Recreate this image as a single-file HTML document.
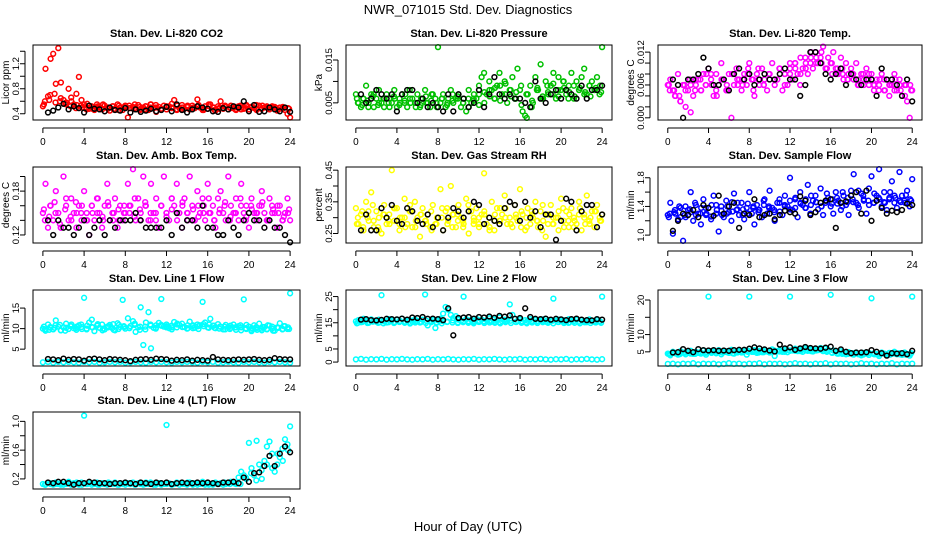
<!DOCTYPE html>
<html><head><meta charset="utf-8"><style>
body{margin:0;background:#fff}
svg{display:block;font-family:"Liberation Sans",sans-serif}
</style></head><body>
<svg id="chart" width="936" height="540" xmlns="http://www.w3.org/2000/svg">
<rect width="936" height="540" fill="#fff"/>
<text x="468" y="14" font-size="13" text-anchor="middle">NWR_071015  Std. Dev. Diagnostics</text>
<text x="468" y="531" font-size="13" text-anchor="middle">Hour of Day (UTC)</text>
</svg>
<script>
const xTicks=[0,4,8,12,16,20,24];
const co2Red=[0.52,1.12,0.68,1.28,1.36,0.88,1.45,0.90,0.62,0.58,0.80,0.66,0.55,0.72,0.99,0.62,0.55,0.50,0.48,0.52,0.46,0.55,0.50,0.47,0.53,0.49,0.45,0.52,0.48,0.55,0.50,0.46,0.53,0.34,0.49,0.51,0.47,0.54,0.48,0.50,0.52,0.46,0.55,0.49,0.43,0.51,0.48,0.53,0.47,0.52,0.50,0.62,0.46,0.49,0.54,0.48,0.51,0.47,0.53,0.49,0.63,0.50,0.46,0.52,0.48,0.55,0.50,0.45,0.52,0.60,0.48,0.51,0.47,0.53,0.49,0.46,0.52,0.50,0.48,0.54,0.47,0.51,0.49,0.46,0.53,0.48,0.50,0.52,0.47,0.49,0.51,0.45,0.50,0.48,0.46,0.40,0.34];
const co2Red2=[0.60,0.70,0.58,0.65,0.55,0.60,0.54,0.50,0.56,0.48,0.52,0.55,0.50,0.47,0.53,0.51,0.49,0.55,0.46,0.52,0.50,0.54,0.48,0.51,0.56,0.47,0.50,0.53,0.49,0.52,0.46,0.55,0.50,0.48,0.52,0.50,0.47,0.53,0.49,0.51,0.54,0.48,0.50,0.52,0.47,0.51,0.49];
const co2Red3=[0.55,0.62,0.72,0.60,0.56,0.52,0.49,0.53,0.47,0.51,0.50,0.54,0.48,0.52,0.46,0.50,0.53,0.49,0.51,0.47,0.55,0.50,0.48,0.52,0.49,0.53,0.47,0.51,0.50,0.54,0.48,0.52,0.46,0.50,0.53,0.49,0.51,0.47,0.52,0.50,0.48,0.53,0.49,0.51,0.47,0.50,0.48];
const co2Black=[0.42,0.45,0.50,0.56,0.47,0.52,0.49,0.42,0.53,0.48,0.47,0.44,0.50,0.46,0.45,0.49,0.42,0.47,0.43,0.45,0.48,0.44,0.46,0.51,0.44,0.55,0.46,0.42,0.47,0.52,0.50,0.48,0.44,0.43,0.49,0.47,0.52,0.50,0.60,0.44,0.54,0.43,0.44,0.50,0.47,0.44,0.50,0.43];
const presGreen=[0.007,0.005,0.004,0.006,0.009,0.005,0.007,0.004,0.006,0.008,0.005,0.004,0.007,0.006,0.005,0.008,0.004,0.006,0.007,0.005,0.004,0.008,0.006,0.005,0.007,0.004,0.006,0.008,0.005,0.004,0.007,0.006,0.018,0.005,0.007,0.004,0.006,0.008,0.005,0.006,0.007,0.004,0.006,0.003,0.008,0.005,0.007,0.006,0.009,0.011,0.012,0.007,0.010,0.008,0.006,0.009,0.012,0.007,0.010,0.005,0.008,0.011,0.006,0.013,0.008,0.003,0.002,0.007,0.009,0.005,0.011,0.008,0.014,0.006,0.010,0.007,0.009,0.012,0.006,0.011,0.008,0.010,0.007,0.009,0.012,0.006,0.010,0.008,0.011,0.013,0.007,0.009,0.010,0.008,0.011,0.007,0.018];
const presGreen2=[0.005,0.006,0.004,0.007,0.005,0.006,0.004,0.006,0.005,0.007,0.005,0.004,0.006,0.005,0.007,0.004,0.006,0.005,0.007,0.006,0.005,0.004,0.006,0.007,0.005,0.008,0.006,0.009,0.007,0.008,0.006,0.009,0.007,0.004,0.008,0.006,0.009,0.007,0.008,0.010,0.006,0.009,0.008,0.007,0.009,0.008,0.009];
const presGreen3=[0.006,0.0045,0.0055,0.0065,0.0045,0.006,0.005,0.0065,0.0045,0.0055,0.006,0.005,0.0045,0.0065,0.0055,0.005,0.006,0.0045,0.0055,0.0065,0.005,0.006,0.0055,0.0045,0.0075,0.0065,0.0085,0.0055,0.0095,0.0065,0.0075,0.0045,0.0015,0.0055,0.0085,0.0065,0.0075,0.0095,0.0065,0.0085,0.0075,0.0065,0.0085,0.0075,0.0065,0.0085,0.0075];
const presBlack=[0.007,0.005,0.006,0.008,0.007,0.006,0.007,0.003,0.007,0.008,0.008,0.005,0.006,0.004,0.005,0.004,0.003,0.007,0.003,0.007,0.006,0.004,0.005,0.008,0.004,0.007,0.011,0.007,0.006,0.007,0.006,0.006,0.005,0.004,0.010,0.006,0.005,0.007,0.008,0.006,0.008,0.007,0.006,0.009,0.006,0.008,0.008,0.009];
const tempMag=[0.006,0.007,0.005,0.004,0.008,0.003,0.006,0.002,0.005,0.001,0.004,0.006,0.007,0.005,0.008,0.006,0.009,0.007,0.004,0.008,0.006,0.010,0.007,0.005,0.008,0.000,0.006,0.009,0.007,0.005,0.008,0.006,0.010,0.007,0.004,0.008,0.006,0.009,0.007,0.005,0.008,0.010,0.006,0.007,0.009,0.005,0.008,0.006,0.009,0.007,0.010,0.008,0.006,0.009,0.011,0.008,0.010,0.009,0.012,0.010,0.011,0.013,0.009,0.011,0.010,0.012,0.009,0.008,0.011,0.007,0.010,0.008,0.009,0.007,0.010,0.006,0.008,0.007,0.009,0.006,0.008,0.005,0.007,0.006,0.008,0.005,0.007,0.004,0.006,0.008,0.005,0.007,0.004,0.006,0.003,0.000,0.005];
const tempMag2=[0.005,0.004,0.003,0.005,0.006,0.007,0.005,0.008,0.006,0.004,0.007,0.005,0.008,0.006,0.007,0.009,0.005,0.007,0.006,0.008,0.007,0.009,0.006,0.008,0.010,0.008,0.009,0.011,0.010,0.012,0.009,0.010,0.008,0.009,0.007,0.008,0.006,0.008,0.007,0.006,0.005,0.007,0.006,0.005,0.006,0.004,0.006];
const tempMag3=[0.006,0.005,0.004,0.006,0.007,0.005,0.007,0.006,0.008,0.005,0.007,0.006,0.008,0.007,0.006,0.008,0.007,0.009,0.006,0.008,0.007,0.009,0.008,0.010,0.009,0.011,0.010,0.012,0.011,0.010,0.009,0.008,0.009,0.008,0.007,0.008,0.007,0.006,0.008,0.006,0.007,0.005,0.006,0.007,0.005,0.006,0.005];
const tempBlack=[0.007,0.006,0.000,0.007,0.007,0.008,0.011,0.009,0.006,0.006,0.007,0.005,0.008,0.009,0.007,0.008,0.006,0.007,0.008,0.007,0.007,0.008,0.009,0.007,0.007,0.004,0.006,0.012,0.012,0.010,0.008,0.007,0.008,0.009,0.006,0.008,0.007,0.006,0.007,0.007,0.004,0.009,0.007,0.007,0.006,0.004,0.007,0.003];
const ambMag=[0.15,0.19,0.13,0.16,0.14,0.18,0.15,0.13,0.20,0.16,0.14,0.17,0.15,0.13,0.16,0.14,0.18,0.15,0.12,0.16,0.14,0.17,0.15,0.13,0.16,0.19,0.14,0.15,0.17,0.13,0.16,0.14,0.15,0.19,0.16,0.21,0.14,0.17,0.15,0.20,0.16,0.14,0.19,0.15,0.17,0.13,0.16,0.20,0.15,0.14,0.17,0.16,0.19,0.15,0.13,0.17,0.15,0.20,0.16,0.14,0.18,0.15,0.17,0.14,0.19,0.15,0.16,0.13,0.17,0.18,0.15,0.14,0.20,0.16,0.15,0.17,0.14,0.19,0.15,0.16,0.13,0.17,0.15,0.14,0.16,0.18,0.15,0.14,0.17,0.16,0.15,0.13,0.16,0.14,0.15,0.17,0.14];
const ambMag2=[0.14,0.16,0.15,0.13,0.17,0.14,0.15,0.16,0.14,0.15,0.17,0.14,0.16,0.15,0.14,0.16,0.15,0.17,0.14,0.16,0.15,0.14,0.16,0.15,0.17,0.14,0.16,0.15,0.14,0.16,0.15,0.17,0.14,0.15,0.16,0.14,0.15,0.17,0.14,0.16,0.15,0.16,0.14,0.15,0.16,0.14,0.15];
const ambMag3=[0.155,0.145,0.165,0.135,0.155,0.145,0.165,0.15,0.14,0.16,0.15,0.145,0.165,0.14,0.155,0.15,0.16,0.145,0.155,0.165,0.14,0.15,0.16,0.145,0.155,0.15,0.165,0.14,0.155,0.145,0.16,0.15,0.14,0.155,0.165,0.145,0.15,0.16,0.145,0.155,0.15,0.165,0.14,0.155,0.15,0.145,0.155];
const ambBlack=[0.14,0.12,0.14,0.13,0.13,0.12,0.13,0.14,0.12,0.13,0.14,0.12,0.14,0.13,0.14,0.14,0.14,0.15,0.14,0.13,0.13,0.13,0.13,0.14,0.12,0.15,0.13,0.14,0.14,0.13,0.16,0.13,0.13,0.12,0.12,0.14,0.13,0.12,0.14,0.15,0.14,0.14,0.13,0.14,0.13,0.13,0.12,0.11];
const rhYellow=[0.33,0.28,0.31,0.26,0.35,0.29,0.38,0.27,0.32,0.30,0.25,0.34,0.28,0.31,0.45,0.29,0.33,0.26,0.30,0.36,0.28,0.32,0.27,0.35,0.30,0.24,0.33,0.29,0.31,0.27,0.34,0.28,0.30,0.39,0.26,0.32,0.29,0.40,0.31,0.27,0.34,0.30,0.28,0.36,0.25,0.32,0.29,0.33,0.27,0.31,0.44,0.28,0.30,0.35,0.26,0.33,0.29,0.31,0.37,0.28,0.30,0.27,0.34,0.29,0.39,0.31,0.26,0.33,0.28,0.30,0.35,0.27,0.32,0.29,0.24,0.31,0.34,0.28,0.30,0.26,0.36,0.29,0.32,0.27,0.33,0.30,0.28,0.35,0.26,0.31,0.37,0.29,0.32,0.27,0.34,0.30,0.31];
const rhYellow2=[0.30,0.27,0.32,0.29,0.26,0.31,0.28,0.33,0.30,0.27,0.32,0.29,0.31,0.28,0.26,0.30,0.33,0.28,0.31,0.29,0.27,0.32,0.30,0.28,0.31,0.26,0.29,0.33,0.30,0.28,0.31,0.27,0.30,0.32,0.29,0.26,0.31,0.28,0.30,0.33,0.29,0.27,0.31,0.30,0.28,0.32,0.29];
const rhYellow3=[0.28,0.32,0.30,0.34,0.27,0.31,0.29,0.33,0.28,0.30,0.34,0.27,0.31,0.29,0.32,0.28,0.30,0.33,0.27,0.31,0.29,0.34,0.28,0.30,0.32,0.27,0.31,0.29,0.33,0.28,0.30,0.32,0.27,0.31,0.29,0.34,0.28,0.30,0.32,0.27,0.31,0.29,0.33,0.28,0.30,0.32,0.29];
const rhBlack=[0.26,0.31,0.26,0.26,0.33,0.30,0.34,0.29,0.28,0.33,0.32,0.29,0.28,0.31,0.27,0.30,0.26,0.30,0.33,0.32,0.30,0.32,0.35,0.34,0.28,0.30,0.29,0.28,0.33,0.35,0.34,0.29,0.35,0.30,0.32,0.27,0.31,0.31,0.23,0.29,0.36,0.35,0.26,0.32,0.34,0.34,0.27,0.31];
const sfBlue=[1.28,1.45,1.02,1.30,1.22,1.38,0.92,1.25,1.35,1.60,1.20,1.42,1.30,1.15,1.50,1.28,1.38,1.22,1.55,1.30,1.05,1.40,1.25,1.48,1.32,1.20,1.58,1.35,1.28,1.45,1.22,1.38,1.60,1.30,1.15,1.42,1.35,1.25,1.50,1.30,1.62,1.38,1.20,1.45,1.33,1.28,1.55,1.40,1.80,1.35,1.50,1.25,1.60,1.42,1.38,1.70,1.30,1.48,1.55,1.36,1.65,1.28,1.45,1.52,1.40,1.30,1.60,1.48,1.35,1.55,1.42,1.28,1.62,1.85,1.45,1.38,1.58,1.50,1.30,1.65,1.82,1.45,1.55,1.92,1.40,1.60,1.35,1.52,1.75,1.45,1.38,1.88,1.55,1.48,1.62,1.40,1.78];
const sfBlue2=[1.30,1.35,1.25,1.40,1.32,1.28,1.38,1.30,1.42,1.35,1.28,1.40,1.33,1.45,1.36,1.30,1.40,1.35,1.42,1.38,1.32,1.45,1.40,1.48,1.38,1.44,1.50,1.42,1.46,1.40,1.48,1.44,1.52,1.40,1.46,1.50,1.42,1.55,1.48,1.45,1.52,1.46,1.50,1.55,1.48,1.45,1.50];
const sfBlue3=[1.25,1.32,1.40,1.28,1.36,1.45,1.30,1.38,1.26,1.42,1.34,1.30,1.46,1.36,1.28,1.44,1.38,1.32,1.48,1.40,1.35,1.50,1.42,1.36,1.52,1.45,1.38,1.55,1.46,1.40,1.58,1.50,1.44,1.60,1.52,1.46,1.62,1.48,1.42,1.58,1.50,1.45,1.60,1.52,1.46,1.56,1.48];
const sfBlack=[1.06,1.20,1.30,1.28,1.35,1.25,1.42,1.38,1.27,1.55,1.30,1.40,1.45,1.10,1.30,1.28,1.50,1.25,1.28,1.30,1.22,1.28,1.34,1.32,1.30,1.54,1.48,1.28,1.32,1.45,1.48,1.50,1.10,1.45,1.47,1.55,1.60,1.30,1.62,1.20,1.48,1.38,1.30,1.34,1.32,1.35,1.44,1.42];
const l1Upper=[10.0,9.5,11.0,10.2,9.8,12.0,10.5,9.6,10.3,11.2,9.9,10.6,10.1,9.7,10.8,10.4,17.5,10.0,11.5,12.2,9.4,10.7,10.2,11.0,9.8,10.5,10.9,10.1,9.6,11.3,10.4,17.0,10.0,12.5,10.6,11.8,9.2,10.3,15.2,6.0,11.5,14.0,5.2,10.2,10.8,11.4,17.2,10.5,11.0,10.1,10.7,11.6,10.3,10.9,11.2,10.4,10.0,11.7,10.6,10.2,11.0,10.8,16.5,11.5,10.3,12.4,10.7,10.1,11.1,10.5,9.8,10.9,10.4,10.2,11.0,9.7,10.6,10.3,17.1,9.9,10.5,9.4,10.8,10.1,11.2,9.6,10.4,9.9,10.7,10.0,9.5,10.3,11.3,9.8,10.6,9.9,18.6];
const l1Upper2=[9.8,10.4,10.8,9.6,10.2,11.0,10.5,9.9,10.7,10.3,11.1,10.0,10.6,9.7,10.9,10.4,10.1,11.2,10.5,9.8,10.7,10.2,10.9,10.6,10.3,11.0,10.4,10.8,10.1,10.6,11.1,10.2,10.7,10.0,10.5,9.9,10.3,10.8,10.1,9.7,10.4,10.0,9.8,10.5,10.2,9.9,10.3];
const l1Upper3=[10.5,9.7,10.2,10.9,9.5,10.6,10.1,11.0,9.8,10.4,10.8,9.6,10.3,11.1,9.9,10.6,10.2,10.9,9.7,10.5,11.0,10.0,10.7,10.3,9.8,11.2,10.4,10.1,10.8,9.9,10.6,11.0,10.2,10.5,9.8,10.7,10.3,9.6,10.9,10.1,9.7,10.4,10.8,9.5,10.2,10.6,9.9];
const l1Lower=[1.8,1.9,1.7,1.9,1.8,1.9,1.8,1.7,1.9,1.8,1.9,1.7,1.8,1.9,1.8,1.9,1.7,1.8,1.9,1.8,1.7,1.9,1.8,1.9,1.8,1.7,1.9,1.8,1.9,1.8,1.7,1.9,1.8,1.9,1.7,1.8,1.9,1.8,1.7,1.9,1.8,1.9,1.8,1.7,1.9,1.8,1.9,1.8,1.7];
const l1Black=[2.6,2.5,2.3,2.7,2.4,2.6,2.5,2.2,2.6,2.7,2.5,2.3,2.6,2.5,2.4,2.3,2.1,2.4,2.5,2.6,2.4,2.7,2.6,2.5,2.2,2.4,2.3,2.5,2.2,2.4,2.3,2.2,3.1,2.5,2.4,2.3,2.4,2.5,2.4,2.5,2.6,2.4,2.3,2.4,2.8,2.6,2.5,2.5];
const l2Upper=[15.5,16.0,15.2,16.5,15.8,15.0,16.3,15.6,15.4,16.2,25.5,15.7,15.1,16.4,15.9,15.3,16.1,15.5,16.6,15.2,15.8,16.0,15.4,16.3,15.7,15.1,16.2,25.8,14.0,15.6,16.1,13.0,15.9,16.5,18.5,21.0,20.0,18.0,16.8,17.5,16.2,15.8,25.0,16.4,15.6,16.1,15.3,16.5,15.8,16.2,15.5,16.0,16.7,15.4,16.3,15.9,17.0,15.6,16.2,15.8,22.0,18.0,16.5,15.7,16.3,15.2,16.0,15.8,16.4,15.5,16.1,15.6,15.9,16.3,15.4,16.0,15.7,24.2,15.9,16.2,15.5,16.0,15.3,16.4,15.8,15.6,16.1,15.4,16.0,15.7,15.2,16.3,15.8,15.5,16.0,15.4,25.0];
const l2Upper2=[15.0,15.6,15.3,15.8,15.1,15.5,15.9,15.2,15.7,15.4,15.0,15.6,15.3,15.8,15.5,15.1,15.7,15.4,15.9,15.2,15.6,15.3,15.8,15.5,15.0,15.7,15.4,15.2,15.6,15.8,15.3,15.5,15.1,15.7,15.4,15.6,15.2,15.8,15.3,15.5,15.0,15.6,15.4,15.2,15.7,15.3,15.5];
const l2Upper3=[14.8,15.3,14.9,15.4,15.0,14.8,15.2,14.9,15.3,15.0,14.7,15.1,15.4,14.9,15.2,15.0,14.8,15.3,15.1,14.9,15.2,15.0,14.8,15.3,14.9,15.1,15.0,14.8,15.2,14.9,15.3,15.0,14.8,15.1,14.9,15.2,15.0,14.8,15.3,14.9,15.1,15.0,14.8,15.2,14.9,15.1,15.0];
const l2Lower=[1.0,1.2,0.9,1.1,1.0,1.2,0.9,1.1,1.0,1.2,1.0,0.9,1.1,1.0,1.2,0.9,1.1,1.0,1.2,1.0,0.9,1.1,1.0,1.2,0.9,1.1,1.0,1.2,1.0,0.9,1.1,1.0,1.2,0.9,1.1,1.0,1.2,1.0,0.9,1.1,1.0,1.2,0.9,1.1,1.0,1.2,1.0,0.9,1.1];
const l2Black=[16.2,16.4,16.0,15.9,16.1,16.5,16.4,16.3,16.6,16.2,17.0,16.8,17.2,16.5,16.6,16.4,16.0,20.5,10.2,16.8,17.0,17.2,16.6,17.2,17.0,17.4,16.9,17.6,17.3,17.8,16.5,16.8,20.5,17.2,16.5,16.4,16.6,16.2,16.5,16.3,16.0,16.4,16.6,16.2,16.0,15.9,16.4,16.2];
const l3Upper=[4.5,4.0,5.0,4.6,4.2,5.2,4.8,4.3,4.9,5.3,4.4,5.0,4.7,4.5,5.4,4.2,21.0,4.8,5.1,4.6,5.5,4.3,4.9,5.2,4.7,5.6,4.5,5.0,5.3,4.8,5.4,4.2,21.0,5.0,5.5,4.7,5.3,4.9,5.6,5.1,4.8,5.7,3.8,5.2,5.5,5.0,5.8,4.9,21.0,5.4,5.9,5.2,5.6,5.0,6.0,5.3,5.7,5.1,5.8,5.5,6.1,5.2,5.9,5.6,21.5,5.4,5.0,4.5,5.2,4.7,4.3,4.9,4.6,4.2,4.8,4.4,4.0,4.7,4.5,4.1,20.5,4.6,4.3,3.8,4.8,4.5,4.2,4.7,4.4,5.0,4.3,4.6,4.1,4.8,4.4,3.9,21.0];
const l3Upper2=[4.2,4.6,4.4,4.8,4.5,4.9,4.6,5.0,4.7,5.1,4.8,5.0,4.6,5.2,4.9,5.3,5.0,4.8,5.2,5.0,5.4,5.1,5.5,5.3,5.6,5.2,5.5,5.7,5.4,5.6,5.3,4.8,4.6,4.4,4.7,4.3,4.5,4.2,4.6,4.4,4.3,4.5,4.2,4.6,4.3,4.5,4.4];
const l3Upper3=[4.4,4.8,4.3,4.7,4.6,4.4,4.9,4.7,5.2,4.6,5.0,4.9,5.3,4.8,5.1,5.0,5.4,5.1,4.9,5.3,5.2,5.5,5.0,5.4,5.3,5.6,5.4,5.2,5.7,5.5,5.0,4.7,4.5,4.8,4.4,4.6,4.3,4.5,4.7,4.3,4.5,4.4,4.2,4.5,4.4,4.2,4.6];
const l3Lower=[1.5,1.6,1.4,1.6,1.5,1.7,1.4,1.6,1.5,1.6,1.4,1.5,1.7,1.5,1.6,1.4,1.6,1.5,1.7,1.4,1.6,1.5,1.6,1.4,1.5,1.7,1.5,1.6,1.4,1.6,1.5,1.7,1.4,1.6,1.5,1.6,1.4,1.5,1.7,1.5,1.6,1.4,1.6,1.5,1.7,1.4,1.6,1.5,1.6];
const l3Black=[4.8,4.9,5.8,5.3,4.9,5.8,5.5,5.4,5.5,5.3,5.4,5.3,5.5,5.6,5.6,5.9,6.3,6.0,5.7,5.4,5.1,7.1,6.0,6.3,5.6,6.0,6.4,6.1,6.0,5.9,6.2,6.5,5.3,5.7,5.0,4.6,4.8,4.8,4.9,5.5,5.0,4.6,3.9,4.6,4.5,4.6,4.3,5.3];
const l4Cyan=[0.13,0.12,0.14,0.13,0.12,0.15,0.13,0.14,0.12,0.13,0.16,0.12,0.14,0.13,0.12,0.15,1.08,0.13,0.14,0.12,0.13,0.15,0.12,0.14,0.13,0.12,0.14,0.13,0.15,0.12,0.14,0.13,0.12,0.14,0.13,0.15,0.12,0.14,0.13,0.12,0.15,0.13,0.14,0.12,0.13,0.14,0.12,0.13,0.95,0.14,0.12,0.13,0.15,0.12,0.14,0.13,0.12,0.15,0.13,0.14,0.12,0.13,0.16,0.12,0.14,0.13,0.12,0.15,0.13,0.14,0.12,0.13,0.15,0.16,0.14,0.13,0.22,0.30,0.25,0.20,0.70,0.35,0.25,0.73,0.40,0.20,0.45,0.65,0.72,0.55,0.30,0.40,0.50,0.62,0.75,0.68,0.93];
const l4Cyan2=[0.12,0.14,0.13,0.12,0.14,0.13,0.15,0.12,0.13,0.14,0.12,0.13,0.15,0.13,0.12,0.14,0.13,0.12,0.14,0.13,0.15,0.12,0.14,0.13,0.12,0.14,0.13,0.15,0.12,0.14,0.13,0.12,0.14,0.13,0.15,0.13,0.14,0.13,0.22,0.28,0.18,0.32,0.40,0.35,0.55,0.45,0.60];
const l4Black=[0.15,0.14,0.16,0.16,0.14,0.12,0.14,0.14,0.16,0.15,0.14,0.14,0.13,0.14,0.14,0.15,0.14,0.13,0.15,0.14,0.13,0.15,0.14,0.15,0.13,0.14,0.15,0.14,0.14,0.15,0.14,0.15,0.14,0.13,0.15,0.15,0.16,0.14,0.22,0.16,0.28,0.29,0.38,0.52,0.38,0.55,0.65,0.57];

const cols=[{l:33,r:300},{l:346,r:612},{l:658,r:922}];
const rows=[{t:45,b:120},{t:167,b:243},{t:290,b:366},{t:412,b:489}];
const panels=[
 {c:0,r:0,title:"Stan. Dev. Li-820 CO2",ylab:"Licor ppm",y0:0.30,y1:1.50,ticks:[0.4,0.6,0.8,1.0,1.2,1.4],labels:["0.4","","0.8","","1.2",""],ser:[[co2Red,"#ff0000",0,24],[co2Red2,"#ff0000",0.2,23.8],[co2Red3,"#ff0000",0.1,23.9],[co2Black,"#000",0.5,24]]},
 {c:1,r:0,title:"Stan. Dev. Li-820 Pressure",ylab:"kPa",y0:0.0010,y1:0.0185,ticks:[0.005,0.010,0.015],labels:["0.005","","0.015"],ser:[[presGreen,"#00c000",0,24],[presGreen2,"#00c000",0.2,23.8],[presGreen3,"#00c000",0.1,23.9],[presBlack,"#000",0.5,24]]},
 {c:2,r:0,title:"Stan. Dev. Li-820 Temp.",ylab:"degrees C",y0:-0.0004,y1:0.0133,ticks:[0,0.002,0.004,0.006,0.008,0.010,0.012],labels:["0.000","","","0.006","","","0.012"],ser:[[tempMag,"#ff00ff",0,24],[tempMag2,"#ff00ff",0.2,23.8],[tempMag3,"#ff00ff",0.1,23.9],[tempBlack,"#000",0.5,24]]},
 {c:0,r:1,title:"Stan. Dev. Amb. Box Temp.",ylab:"degrees C",y0:0.109,y1:0.213,ticks:[0.12,0.14,0.16,0.18,0.20],labels:["0.12","","","0.18",""],ser:[[ambMag,"#ff00ff",0,24],[ambMag2,"#ff00ff",0.2,23.8],[ambMag3,"#ff00ff",0.1,23.9],[ambBlack,"#000",0.5,24]]},
 {c:1,r:1,title:"Stan. Dev. Gas Stream RH",ylab:"percent",y0:0.22,y1:0.46,ticks:[0.25,0.30,0.35,0.40,0.45],labels:["0.25","","0.35","","0.45"],ser:[[rhYellow,"#ffff00",0,24],[rhYellow2,"#ffff00",0.2,23.8],[rhYellow3,"#ffff00",0.1,23.9],[rhBlack,"#000",0.5,24]]},
 {c:2,r:1,title:"Stan. Dev. Sample Flow",ylab:"ml/min",y0:0.89,y1:1.95,ticks:[1.0,1.2,1.4,1.6,1.8],labels:["1.0","","1.4","","1.8"],ser:[[sfBlue,"#0000ff",0,24],[sfBlue2,"#0000ff",0.2,23.8],[sfBlue3,"#0000ff",0.1,23.9],[sfBlack,"#000",0.5,24]]},
 {c:0,r:2,title:"Stan. Dev. Line 1 Flow",ylab:"ml/min",y0:0.9,y1:19.4,ticks:[5,10,15],labels:["5","10","15"],ser:[[l1Upper,"#00ffff",0,24],[l1Upper2,"#00ffff",0.2,23.8],[l1Upper3,"#00ffff",0.1,23.9],[l1Lower,"#00ffff",0,24],[l1Black,"#000",0.5,24]]},
 {c:1,r:2,title:"Stan. Dev. Line 2 Flow",ylab:"ml/min",y0:-1.5,y1:27.5,ticks:[0,5,10,15,20,25],labels:["0","5","","15","","25"],ser:[[l2Upper,"#00ffff",0,24],[l2Upper2,"#00ffff",0.2,23.8],[l2Upper3,"#00ffff",0.1,23.9],[l2Lower,"#00ffff",0,24],[l2Black,"#000",0.5,24]]},
 {c:2,r:2,title:"Stan. Dev. Line 3 Flow",ylab:"ml/min",y0:0.9,y1:22.9,ticks:[5,10,15,20],labels:["5","10","","20"],ser:[[l3Upper,"#00ffff",0,24],[l3Upper2,"#00ffff",0.2,23.8],[l3Upper3,"#00ffff",0.1,23.9],[l3Lower,"#00ffff",0,24],[l3Black,"#000",0.5,24]]},
 {c:0,r:3,title:"Stan. Dev. Line 4 (LT) Flow",ylab:"ml/min",y0:0.06,y1:1.13,ticks:[0.2,0.4,0.6,0.8,1.0],labels:["0.2","","0.6","","1.0"],ser:[[l4Cyan,"#00ffff",0,24],[l4Cyan2,"#00ffff",0.2,23.8],[l4Black,"#000",0.5,24]]}
];
const NS="http://www.w3.org/2000/svg";
const svg=document.getElementById('chart');
function mk(tag,attrs,parent){const e=document.createElementNS(NS,tag);for(const k in attrs)e.setAttribute(k,attrs[k]);parent.appendChild(e);return e;}
panels.forEach((p,pi)=>{
 const L=cols[p.c].l,R=cols[p.c].r,T=rows[p.r].t,B=rows[p.r].b;
 const xs=v=>L+(v+0.96)/25.92*(R-L);
 const ys=v=>B-(v-p.y0)/(p.y1-p.y0)*(B-T);
 const g=mk('g',{},svg);
 
 
 const t=mk('text',{x:(L+R)/2,y:T-8,'font-size':11,'font-weight':'bold','text-anchor':'middle'},g);
 t.textContent=p.title;
 
 
 const pts=mk('g',{},g);
 
 
 p.ser.forEach(s=>{
  const vals=s[0],col=s[1],x0=s[2],x1=s[3];
  vals.forEach((v,i)=>{
   const xv=x0+i*(x1-x0)/(vals.length-1);
   const yy=Math.max(T,Math.min(B,ys(v)));
   const c=mk('circle',{cx:xs(xv).toFixed(1),cy:yy.toFixed(1),r:2.4,fill:'none',stroke:col,'stroke-width':1.5},pts);
   
   
  });
 });
 const box=mk('rect',{x:L,y:T,width:R-L,height:B-T,fill:'none',stroke:'#000','stroke-width':1},g);
 
 
 mk('line',{x1:xs(0),x2:xs(24),y1:B+8,y2:B+8,stroke:'#000'},g);
 xTicks.forEach(v=>{
  mk('line',{x1:xs(v),x2:xs(v),y1:B+8,y2:B+13,stroke:'#000'},g);
  const tl=mk('text',{x:xs(v),y:B+25,'font-size':10,'text-anchor':'middle'},g);
  tl.textContent=v;
  
  
 });
 mk('line',{x1:L-8,x2:L-8,y1:ys(p.ticks[0]),y2:ys(p.ticks[p.ticks.length-1]),stroke:'#000'},g);
 p.ticks.forEach((v,i)=>{
  const y=ys(v);
  mk('line',{x1:L-13,x2:L-8,y1:y,y2:y,stroke:'#000'},g);
  if(p.labels[i]){
   const yl=mk('text',{x:0,y:0,'font-size':9.5,'text-anchor':'middle',transform:`translate(${L-14},${y}) rotate(-90)`},g);
   yl.textContent=p.labels[i];
   
   
  }
 });
 const yt=mk('text',{x:0,y:0,'font-size':10,'text-anchor':'middle',transform:`translate(${L-24},${(T+B)/2}) rotate(-90)`},g);
 yt.textContent=p.ylab;
 
 
});
</script>
</body></html>
